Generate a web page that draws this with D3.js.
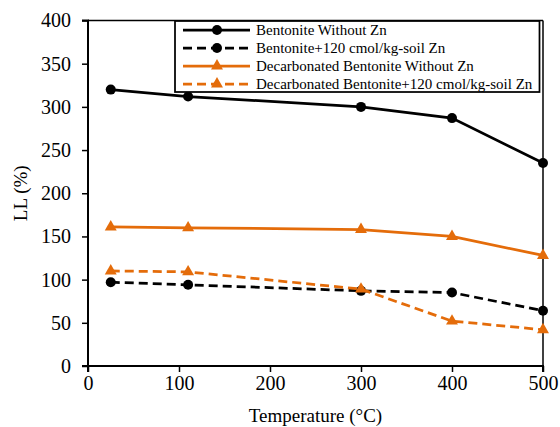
<!DOCTYPE html>
<html><head><meta charset="utf-8">
<script src="https://cdn.jsdelivr.net/npm/d3@7"></script>
<style>
html,body{margin:0;padding:0;background:#fff;}
svg{display:block;}
svg text{font-family:"Liberation Serif","Times New Roman",serif;}
</style></head>
<body>
<svg id="chart" width="560" height="427"></svg>
<script>
const temperatures = [25, 110, 300, 400, 500];
const bentoniteWithoutZn = [320, 312, 300, 287, 235];
const bentoniteZn = [97, 94, 87, 85, 64];
const decarbWithoutZn = [161, 160, 158, 150, 128];
const decarbZn = [110, 109, 89, 52, 42];
const seriesNames = ["Bentonite Without Zn", "Bentonite+120 cmol/kg-soil Zn",
  "Decarbonated Bentonite Without Zn", "Decarbonated Bentonite+120 cmol/kg-soil Zn"];
const xTicks = [0, 100, 200, 300, 400, 500];
const yTicks = [0, 50, 100, 150, 200, 250, 300, 350, 400];

const SERIF = "Liberation Serif";
const BLACK = "#000000", ORANGE = "#E46C0A";
const series = [
  {name: seriesNames[0], values: bentoniteWithoutZn, color: BLACK, dash: null, marker: "circle"},
  {name: seriesNames[1], values: bentoniteZn, color: BLACK, dash: "9,5", marker: "circle"},
  {name: seriesNames[2], values: decarbWithoutZn, color: ORANGE, dash: null, marker: "triangle"},
  {name: seriesNames[3], values: decarbZn, color: ORANGE, dash: "9,5", marker: "triangle"}
];

const svg = d3.select("#chart");
const L = 88, R = 543, T = 20.5, B = 366;
const x = d3.scaleLinear().domain([0, 500]).range([L, R]);
const y = d3.scaleLinear().domain([0, 400]).range([B, T]);

svg.append("line").attr("x1", L).attr("x2", R).attr("y1", T).attr("y2", T)
  .attr("stroke", "#000").attr("stroke-width", 1.5);
svg.append("line").attr("x1", R).attr("x2", R).attr("y1", T).attr("y2", B)
  .attr("stroke", "#000").attr("stroke-width", 1.5);

const yAxis = svg.append("g").attr("transform", `translate(${L},0)`)
  .call(d3.axisLeft(y).tickValues(yTicks).tickSize(6).tickPadding(11).tickFormat(d3.format("d")));
const xAxis = svg.append("g").attr("transform", `translate(0,${B})`)
  .call(d3.axisBottom(x).tickValues(xTicks).tickSize(6).tickPadding(4).tickFormat(d3.format("d")));
[xAxis, yAxis].forEach(g => {
  g.attr("font-family", SERIF).attr("font-size", 20);
  g.select(".domain").attr("stroke", "#000").attr("stroke-width", 2);
  g.selectAll(".tick line").attr("stroke", "#000").attr("stroke-width", 1.5);
  g.selectAll(".tick text").attr("fill", "#000")
    .attr("font-family", SERIF).attr("font-size", 20);
});
yAxis.select(".domain").attr("d", `M-6,${B}H0V${T}H-6`);
xAxis.select(".domain").attr("d", `M${L},6V0H${R}V6`);

svg.append("text").attr("x", (L + R) / 2).attr("y", 422).attr("text-anchor", "middle")
  .attr("font-family", SERIF).attr("font-size", 19).text("Temperature (°C)");
svg.append("text").attr("transform", `translate(27,${(T + B) / 2}) rotate(-90)`)
  .attr("text-anchor", "middle").attr("font-family", SERIF).attr("font-size", 19).text("LL (%)");

const line = d3.line().x((d, i) => x(temperatures[i])).y(d => y(d));
const tri = d3.symbol().type(d3.symbolTriangle).size(62);

function drawMarker(g, s, cx, cy) {
  if (s.marker === "circle") {
    g.append("circle").attr("cx", cx).attr("cy", cy).attr("r", 5).attr("fill", s.color);
  } else {
    g.append("path").attr("d", tri).attr("transform", `translate(${cx},${cy})`).attr("fill", s.color);
  }
}

series.forEach(s => {
  const g = svg.append("g");
  g.append("path").datum(s.values).attr("d", line).attr("fill", "none")
    .attr("stroke", s.color).attr("stroke-width", 2.75)
    .attr("stroke-dasharray", s.dash);
  s.values.forEach((v, i) => drawMarker(g, s, x(temperatures[i]), y(v)));
});

const lg = svg.append("g");
lg.append("rect").attr("x", 175).attr("y", 21).attr("width", 364.5).attr("height", 71)
  .attr("fill", "#fff").attr("stroke", "#000").attr("stroke-width", 1.75);
series.forEach((s, i) => {
  const cy = 30 + i * 18;
  lg.append("line").attr("x1", 183).attr("x2", 250).attr("y1", cy).attr("y2", cy)
    .attr("stroke", s.color).attr("stroke-width", 2.75).attr("stroke-dasharray", s.dash);
  drawMarker(lg, s, 217, cy);
  lg.append("text").attr("x", 256).attr("y", cy + 5).attr("font-family", SERIF)
    .attr("font-size", 15).text(s.name);
});
</script>
</body></html>
